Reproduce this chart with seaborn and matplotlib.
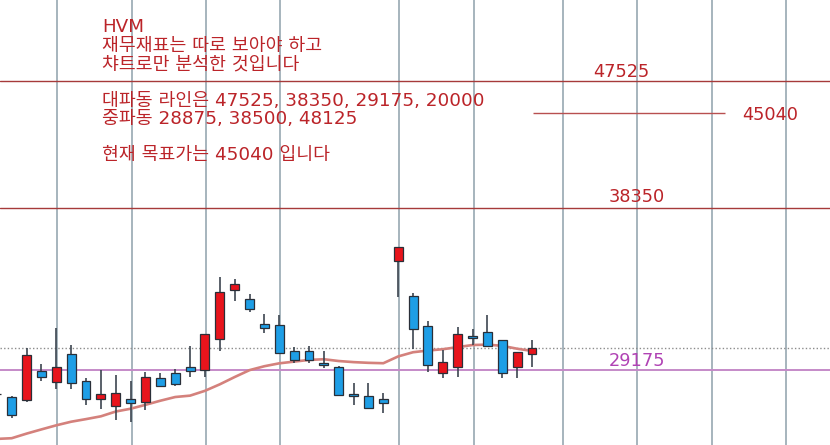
import numpy as np
import pandas as pd
import matplotlib
matplotlib.use("Agg")
import matplotlib.pyplot as plt
import seaborn as sns

# ---------------- data ----------------
idx = list(range(0, 37))
opens = [28020, 27860, 27750, 29140, 28590, 29960, 28640, 27765, 27470, 27765,
         27655, 28770, 29015, 29340, 29175, 30730, 33395, 32890, 31530, 31480,
         30110, 30140, 29505, 29325, 28030, 27905, 27765, 35090, 33045, 31425,
         29040, 29340, 30900, 31095, 30675, 29325, 29960]
highs = [28100, 27935, 30265, 29460, 31305, 30435, 28770, 29175, 28930, 28650,
         29090, 29040, 29240, 30400, 31005, 34155, 34005, 33155, 32055, 32015,
         30345, 30380, 30140, 29390, 28525, 28525, 28080, 35895, 33210, 31690,
         30175, 31390, 31250, 32000, 30680, 30060, 30690]
lows = [27900, 26915, 27655, 28650, 28240, 28270, 27500, 27315, 26810, 26710,
        27270, 28365, 28395, 28820, 28845, 30140, 32780, 32160, 31040, 30010,
        29505, 29535, 29260, 27985, 27500, 27300, 27120, 33020, 30215, 29060,
        28800, 28845, 30435, 30315, 28770, 28770, 29340]
closes = [27990, 27040, 29910, 28820, 29325, 28540, 27765, 28030, 28065, 27595,
          28830, 28410, 28495, 29125, 31005, 33265, 33735, 32325, 31335, 30010,
          29685, 29685, 29435, 27985, 27905, 27375, 27595, 35895, 31250, 29435,
          29555, 30990, 30795, 30380, 29015, 30060, 30295]
ma_values = [25966, 25996, 26199, 26386, 26569, 26731, 26849, 26976, 27195, 27324,
             27505, 27696, 27870, 27935, 28163, 28474, 28827, 29165, 29358, 29502,
             29587, 29672, 29707, 29617, 29562, 29527, 29507, 29848, 30060, 30147,
             30213, 30320, 30428, 30449, 30387, 30239, 30126]

major_levels = [47525, 38350]
support_level = 29175
target_level = 45040
target_span = (36.1, 49.0)
last_price = 30295
grid_idx = [4, 9, 14, 19, 27, 32, 38, 43, 48, 53]

level_labels = ["47525", "38350", "29175", "45040"]
level_label_x = [42.0, 43.05, 43.05, 52.05]

text_lines = ["HVM",
              "재무재표는 따로 보아야 하고",
              "챠트로만 분석한 것입니다",
              "대파동 라인은 47525, 38350, 29175, 20000",
              "중파동 28875, 38500, 48125",
              "현재 목표가는 45040 입니다"]
text_baselines_px = [32, 50.5, 69, 106.5, 124, 160.5]

# ---------------- style ----------------
sns.set_style("white")
plt.rcParams['font.family'] = ['DejaVu Sans', 'Noto Sans CJK KR']

W, H = 830, 445
fig = plt.figure(figsize=(W / 100, H / 100), dpi=100)
ax = fig.add_axes([0, 0, 1, 1])
ax.set_yscale('log')

RED_TXT = '#bb2429'
LINE_RED = '#a63a3a'
FS = 13.2

# vertical grid lines
for g in grid_idx:
    ax.axvline(g + 0.08, color='#8ea1ab', lw=1.1, zorder=0)

# horizontal level lines
for lv in major_levels:
    ax.axhline(lv, color=LINE_RED, lw=1.0, zorder=1)
ax.axhline(support_level, color='#c58ac8', lw=1.4, zorder=1)
ax.hlines(target_level, target_span[0], target_span[1], color='#b85050', lw=1.0, zorder=1)
ax.axhline(last_price, color='#8c8c8c', lw=1.0, ls=(0, (1, 1.6)), zorder=1)

# moving average via seaborn
ma_df = pd.DataFrame({'idx': idx, 'ma': ma_values})
sns.lineplot(data=ma_df, x='idx', y='ma', ax=ax, color='#d4817c', lw=1.9,
             zorder=2, legend=False)

# candles
df = pd.DataFrame({'idx': idx, 'o': opens, 'h': highs, 'l': lows, 'c': closes})
up = df['c'] >= df['o']
ax.vlines(df['idx'], df['l'], df['h'], color='#3d4650', lw=1.2, zorder=3)
body_lo = np.minimum(df['o'], df['c'])
body_hi = np.maximum(df['o'], df['c'])
body_h = np.maximum(body_hi - body_lo, 25)
colors = np.where(up, '#e8141c', '#1e9ee6')
ax.bar(df['idx'], body_h, bottom=body_lo, width=0.6, color=colors,
       edgecolor='#2a2f38', linewidth=0.9, zorder=4)

ax.set_xlim(0.213, 56.05)
ax.set_ylim(25700, 54500)
ax.set_axis_off()

# level labels
lab_vals = [47525, 38350, 29175]
lab_offsets = [4, 6.5, 3.5]
lab_colors = [RED_TXT, RED_TXT, '#b042b4']
for txt, x, v, off, col in zip(level_labels[:3], level_label_x[:3], lab_vals, lab_offsets, lab_colors):
    ax.annotate(txt, (x, v), xytext=(0, off), textcoords='offset pixels',
                ha='center', va='baseline', fontsize=12.8, color=col, zorder=6)
ax.annotate(level_labels[3], (level_label_x[3], target_level), xytext=(0, -7.5),
            textcoords='offset pixels', ha='center', va='baseline',
            fontsize=12.8, color=RED_TXT, zorder=6)

# text block
for line, yb in zip(text_lines, text_baselines_px):
    fig.text(102 / W, 1 - yb / H, line, ha='left', va='baseline',
             fontsize=FS, color=RED_TXT, zorder=6)

fig.savefig('out.png', dpi=100, facecolor='white')
